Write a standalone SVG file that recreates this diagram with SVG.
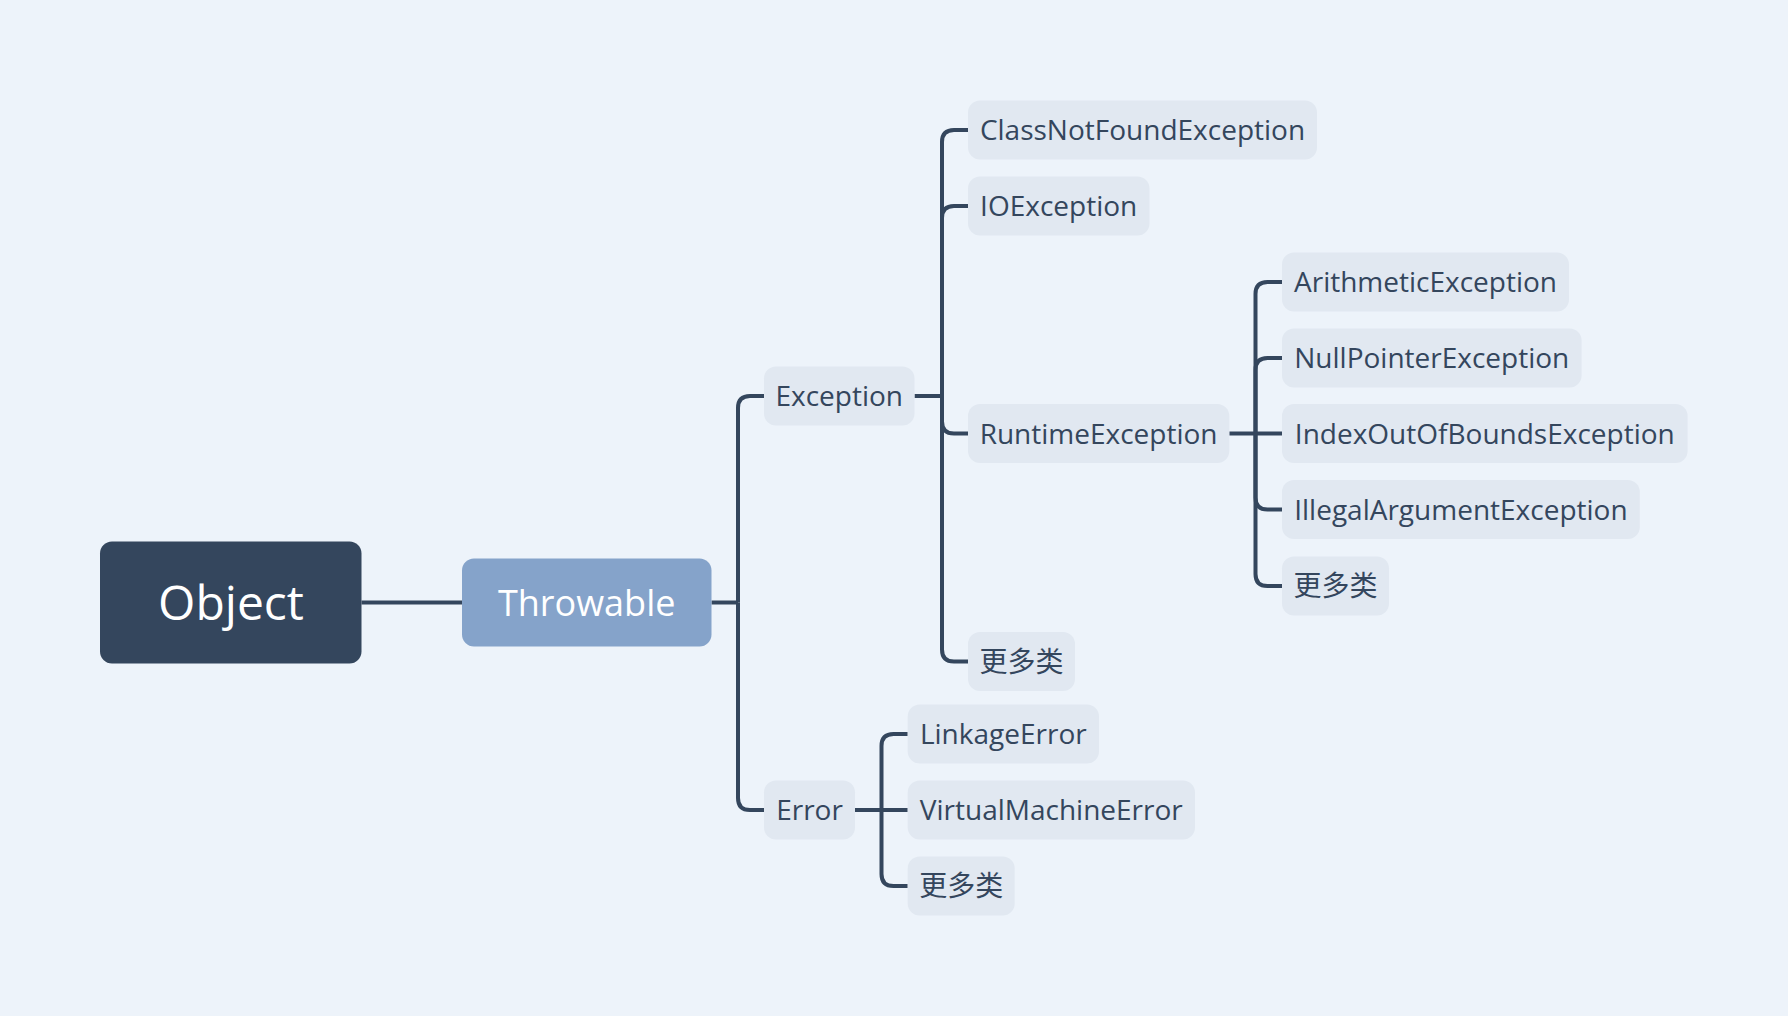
<svg xmlns="http://www.w3.org/2000/svg" width="1788" height="1016" viewBox="0 0 1788 1016">
<style>
.bg{fill:#EDF3FA}
.n{fill:#E1E8F1}
.t{font-family:"Open Sans","Noto Sans CJK SC",sans-serif;font-size:28px;fill:#34465D;text-anchor:middle}
.c path{fill:none;stroke:#34465D;stroke-width:4;stroke-linecap:butt}
</style>
<rect class="bg" x="0" y="0" width="1788" height="1016"/>
<g class="c" id="connectors">
<path d="M361.5 602.5 H462"/>
<path d="M711.5 602.5 H738"/>
<path d="M738 602.5 V408 Q738 396 750 396 H764"/>
<path d="M738 602.5 V798 Q738 810 750 810 H764"/>
<path d="M914.5 396 H942"/>
<path d="M942 396 V142 Q942 130 954 130 H968"/>
<path d="M942 396 V218 Q942 206 954 206 H968"/>
<path d="M942 396 V421.5 Q942 433.5 954 433.5 H968"/>
<path d="M942 396 V649.5 Q942 661.5 954 661.5 H968"/>
<path d="M1229.3 433.5 H1282"/>
<path d="M1255.5 433.5 V294 Q1255.5 282 1267.5 282 H1282"/>
<path d="M1255.5 433.5 V370 Q1255.5 358 1267.5 358 H1282"/>
<path d="M1255.5 433.5 V497.5 Q1255.5 509.5 1267.5 509.5 H1282"/>
<path d="M1255.5 433.5 V574 Q1255.5 586 1267.5 586 H1282"/>
<path d="M855 810 H907.7"/>
<path d="M881.5 810 V746 Q881.5 734 893.5 734 H907.7"/>
<path d="M881.5 810 V874 Q881.5 886 893.5 886 H907.7"/>
</g>
<g id="object"><rect x="100" y="541.5" width="261.5" height="122" rx="12" fill="#34465D"/><text class="t" x="231" y="619.5" style="font-size:48px;fill:#FFFFFF">Object</text></g>
<g id="throwable"><rect x="462" y="558.5" width="249.5" height="88" rx="12" fill="#85A3CA"/><text class="t" x="586.7" y="615.5" style="font-size:36px;fill:#FFFFFF">Throwable</text></g>
<g id="exception"><rect class="n" x="764" y="366.5" width="150.5" height="59" rx="12"/><text class="t" x="839.2" y="406">Exception</text></g>
<g id="error"><rect class="n" x="764" y="780.5" width="91" height="59" rx="12"/><text class="t" x="809.5" y="820">Error</text></g>
<g id="classnotfound"><rect class="n" x="968" y="100.5" width="349" height="59" rx="12"/><text class="t" x="1142.5" y="140">ClassNotFoundException</text></g>
<g id="ioexception"><rect class="n" x="968" y="176.5" width="181.5" height="59" rx="12"/><text class="t" x="1058.7" y="216">IOException</text></g>
<g id="runtime"><rect class="n" x="968" y="404" width="261.3" height="59" rx="12"/><text class="t" x="1098.6" y="443.5">RuntimeException</text></g>
<g id="more-exception"><rect class="n" x="968" y="632" width="107" height="59" rx="12"/><text class="t" x="1021.5" y="671.5">更多类</text></g>
<g id="arithmetic"><rect class="n" x="1282" y="252.5" width="287" height="59" rx="12"/><text class="t" x="1425.5" y="292">ArithmeticException</text></g>
<g id="nullpointer"><rect class="n" x="1282" y="328.5" width="299.6" height="59" rx="12"/><text class="t" x="1431.8" y="368">NullPointerException</text></g>
<g id="indexoutofbounds"><rect class="n" x="1282" y="404" width="405.6" height="59" rx="12"/><text class="t" x="1484.8" y="443.5">IndexOutOfBoundsException</text></g>
<g id="illegalargument"><rect class="n" x="1282" y="480" width="357.8" height="59" rx="12"/><text class="t" x="1460.9" y="519.5">IllegalArgumentException</text></g>
<g id="more-runtime"><rect class="n" x="1282" y="556.5" width="107" height="59" rx="12"/><text class="t" x="1335.5" y="596">更多类</text></g>
<g id="linkage"><rect class="n" x="907.7" y="704.5" width="191.3" height="59" rx="12"/><text class="t" x="1003.3" y="744">LinkageError</text></g>
<g id="virtualmachine"><rect class="n" x="907.7" y="780.5" width="287.3" height="59" rx="12"/><text class="t" x="1051.3" y="820">VirtualMachineError</text></g>
<g id="more-error"><rect class="n" x="907.7" y="856.5" width="107" height="59" rx="12"/><text class="t" x="961.2" y="896">更多类</text></g>
</svg>
